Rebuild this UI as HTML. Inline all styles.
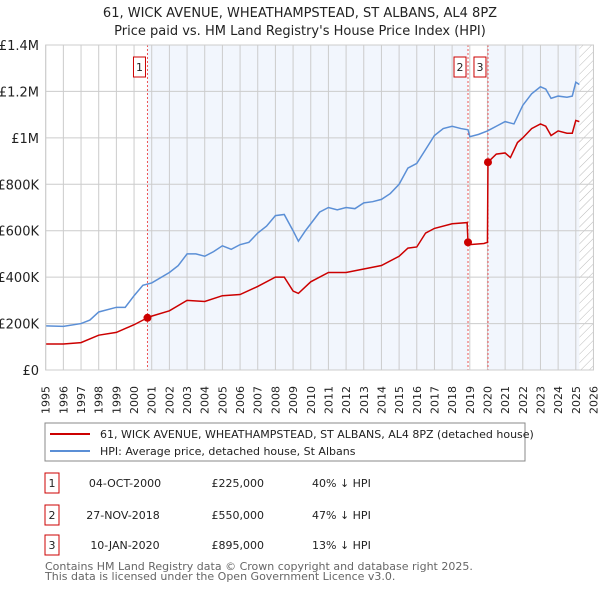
<!DOCTYPE html>
<html><head><meta charset="utf-8"><style>
body{margin:0;background:#fff;font-family:"Liberation Sans","DejaVu Sans",sans-serif;}
svg text{font-family:"DejaVu Sans","Liberation Sans",sans-serif;}
</style></head><body>
<svg id="c" width="600" height="590" xmlns="http://www.w3.org/2000/svg">
<defs><pattern id="hatch" width="6" height="6" patternUnits="userSpaceOnUse" patternTransform="rotate(45)"><line x1="0" y1="0" x2="0" y2="6" stroke="#bbb" stroke-width="1"/></pattern></defs>
<text x="300" y="17" text-anchor="middle" font-size="13" fill="#222">61, WICK AVENUE, WHEATHAMPSTEAD, ST ALBANS, AL4 8PZ</text>
<text x="300" y="35" text-anchor="middle" font-size="13" fill="#222">Price paid vs. HM Land Registry's House Price Index (HPI)</text>
<g id="plot"></g>
<rect x="45" y="423" width="480" height="38" fill="#fff" stroke="#888"/>
<line x1="50" y1="434" x2="90" y2="434" stroke="#cc0000" stroke-width="2"/>
<text x="100" y="438" font-size="11" fill="#222">61, WICK AVENUE, WHEATHAMPSTEAD, ST ALBANS, AL4 8PZ (detached house)</text>
<line x1="50" y1="451" x2="90" y2="451" stroke="#5b8fd6" stroke-width="2"/>
<text x="100" y="455" font-size="11" fill="#222">HPI: Average price, detached house, St Albans</text>
<g font-size="11" fill="#222">
<rect x="45" y="473" width="14" height="20" fill="#fff" stroke="#cc0000"/><text x="52" y="487" text-anchor="middle">1</text>
<text x="125" y="487" text-anchor="middle">04-OCT-2000</text>
<text x="264" y="487" text-anchor="end">£225,000</text>
<text x="312" y="487">40% ↓ HPI</text>
<rect x="45" y="505" width="14" height="20" fill="#fff" stroke="#cc0000"/><text x="52" y="519" text-anchor="middle">2</text>
<text x="123" y="519" text-anchor="middle">27-NOV-2018</text>
<text x="264" y="519" text-anchor="end">£550,000</text>
<text x="312" y="519">47% ↓ HPI</text>
<rect x="45" y="535" width="14" height="20" fill="#fff" stroke="#cc0000"/><text x="52" y="549" text-anchor="middle">3</text>
<text x="125" y="549" text-anchor="middle">10-JAN-2020</text>
<text x="264" y="549" text-anchor="end">£895,000</text>
<text x="312" y="549">13% ↓ HPI</text>
</g>
<text x="45" y="570" font-size="11" fill="#666">Contains HM Land Registry data © Crown copyright and database right 2025.</text>
<text x="45" y="580" font-size="11" fill="#666">This data is licensed under the Open Government Licence v3.0.</text>
</svg>
<script>
const hpiYears=[1995,1996,1997,1997.5,1998,1999,1999.5,2000,2000.5,2001,2002,2002.5,2003,2003.5,2004,2004.5,2005,2005.5,2006,2006.5,2007,2007.5,2008,2008.5,2009,2009.3,2009.7,2010,2010.5,2011,2011.5,2012,2012.5,2013,2013.5,2014,2014.5,2015,2015.5,2016,2016.5,2017,2017.5,2018,2018.5,2018.9,2019,2019.5,2020,2020.5,2021,2021.5,2022,2022.5,2023,2023.3,2023.6,2024,2024.5,2024.8,2025,2025.2];
const hpiValues=[190,188,200,215,250,270,270,320,365,375,420,450,500,500,490,510,535,520,540,550,590,620,665,670,600,555,600,630,680,700,690,700,695,720,725,735,760,800,870,890,950,1010,1040,1050,1040,1035,1005,1015,1030,1050,1070,1060,1140,1190,1220,1210,1170,1180,1175,1180,1240,1230];
const priceYears=[1995,1996,1997,1998,1999,2000,2000.76,2001,2002,2003,2004,2005,2006,2007,2008,2008.5,2009,2009.3,2010,2011,2012,2013,2014,2015,2015.5,2016,2016.5,2017,2018,2018.85,2018.9,2019,2019.8,2020.0,2020.03,2020.5,2021,2021.3,2021.7,2022,2022.5,2023,2023.3,2023.6,2024,2024.5,2024.8,2025,2025.2];
const priceValues=[112,112,118,150,162,195,225,232,255,300,295,320,325,360,400,400,340,330,380,420,420,435,450,490,525,530,590,610,630,635,550,540,545,550,895,930,935,915,980,1000,1040,1060,1050,1010,1030,1020,1020,1075,1070];
const saleYears=[2000.76,2018.9,2020.03];
const saleValues=[225,550,895];
const saleLabels=["1","2","3"];
const yTicks=[0,200,400,600,800,1000,1200,1400];
const yTickLabels=["£0","£200K","£400K","£600K","£800K","£1M","£1.2M","£1.4M"];
const xTicks=[];for(let y=1995;y<=2026;y++)xTicks.push(y);
const dataEnd=2025.2;

const X0=45.7,PX=17.67,Y0=370,PY=325/1400;
const x=v=>X0+(v-1995)*PX, y=v=>Y0-v*PY;
const NS="http://www.w3.org/2000/svg", g=document.getElementById('plot');
function mk(t,a){const e=document.createElementNS(NS,t);for(const k in a)e.setAttribute(k,a[k]);g.appendChild(e);return e;}
const L=x(1995),R=x(2026),T=y(1400);
let e=mk('rect',{x:L,y:T,width:R-L,height:Y0-T,fill:'#fff'});


e=mk('rect',{x:x(saleYears[0]),y:T,width:x(saleYears[1])-x(saleYears[0]),height:Y0-T,fill:'#f2f6fd'});


e=mk('rect',{x:x(saleYears[2]),y:T,width:x(dataEnd)-x(saleYears[2]),height:Y0-T,fill:'#f2f6fd'});


e=mk('rect',{x:x(dataEnd),y:T,width:R-x(dataEnd),height:Y0-T,fill:'url(#hatch)'});


xTicks.forEach(t=>{
 e=mk('line',{x1:x(t),x2:x(t),y1:T,y2:Y0,stroke:'#ccc','stroke-width':1});
 
 
 e=mk('text',{x:0,y:0,transform:`translate(${x(t)+4},414) rotate(-90)`,'font-size':11,fill:'#222'});
 e.textContent=t;
 
 
});
yTicks.forEach((t,i)=>{
 e=mk('line',{x1:L,x2:R,y1:y(t),y2:y(t),stroke:'#ccc','stroke-width':1});
 
 
 e=mk('text',{x:39,y:y(t)+5,'text-anchor':'end','font-size':13,fill:'#222'});
 e.textContent=yTickLabels[i];
 
 
});
saleYears.forEach((s,i)=>{
 e=mk('line',{x1:x(s),x2:x(s),y1:T,y2:Y0,stroke:'#e55','stroke-width':1,'stroke-dasharray':'2,2'});
 
 
 e=mk('rect',{x:x(s)-14,y:57,width:12,height:20,fill:'#fff',stroke:'#cc0000'});
 
 
 e=mk('text',{x:x(s)-8,y:71,'text-anchor':'middle','font-size':11,fill:'#222'});
 e.textContent=saleLabels[i];
 
 
});
e=mk('polyline',{points:hpiYears.map((v,i)=>x(v)+','+y(hpiValues[i])).join(' '),fill:'none',stroke:'#5b8fd6','stroke-width':1.5});


e=mk('polyline',{points:priceYears.map((v,i)=>x(v)+','+y(priceValues[i])).join(' '),fill:'none',stroke:'#cc0000','stroke-width':1.5});


saleYears.forEach((s,i)=>{
 e=mk('circle',{cx:x(s),cy:y(saleValues[i]),r:4,fill:'#cc0000'});
 
 
});
e=mk('rect',{x:L,y:T,width:R-L,height:Y0-T,fill:'none',stroke:'#ccc'});


</script>
</body></html>
